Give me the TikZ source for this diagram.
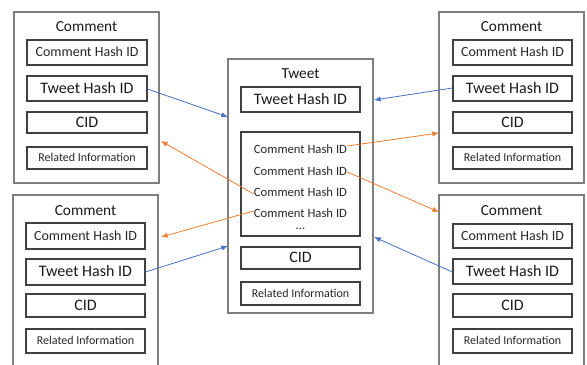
\documentclass[tikz,border=0pt]{standalone}
\usepackage{fontspec}
\setmainfont{Carlito}
\usetikzlibrary{fit,arrows.meta}
\definecolor{cblue}{HTML}{4472C4}
\definecolor{corange}{HTML}{ED7D31}
\definecolor{frame}{HTML}{7F7F7F}
\definecolor{inframe}{HTML}{404040}
\tikzset{
  outerbox/.style={draw=frame, line width=0.9pt, inner sep=0pt, fit={#1}},
  innerbox/.style={draw=inframe, line width=0.8pt, inner sep=0pt},
  titletext/.style={font=\fontsize{11.5}{12}\selectfont, text=black!90, inner sep=0pt},
  fhash/.style={font=\fontsize{10.5}{12}\selectfont, inner sep=0pt, text=black!85},
  fbig/.style={font=\fontsize{12}{14}\selectfont, inner sep=0pt, text=black!90},
  frel/.style={font=\fontsize{9}{11}\selectfont, inner sep=0pt, text=black!85},
  flist/.style={font=\fontsize{9.5}{11}\selectfont, inner sep=0pt, text=black!85},
  bluearr/.style={draw=cblue, line width=0.6pt, -{Latex[length=5pt,width=4pt]}},
  orangearr/.style={draw=corange, line width=0.6pt, -{Latex[length=5pt,width=4pt]}},
}
\newcommand\ibox[4]{\node[innerbox, fit={#2}] (#1) {};\node[#3] (#1-t) at ([yshift=0.4pt]#1.center) {#4};}
\begin{document}
\begin{tikzpicture}[x=0.75pt,y=-0.75pt]
\useasboundingbox (0,0) rectangle (587,365);
% ---------- Tweet ----------
\node[outerbox={(228,59)(373,313)}] (tw) {};
\node[titletext] (twt) at (300.5,74) {Tweet};
\ibox{twh}{(241,87)(360,112)}{fbig}{Tweet Hash ID}
\node[innerbox, fit={(241,132)(360,236)}] (twl) {};
\node[flist] (l1) at (300.5,149) {Comment Hash ID};
\node[flist] (l2) at (300.5,171) {Comment Hash ID};
\node[flist] (l3) at (300.5,192) {Comment Hash ID};
\node[flist] (l4) at (300.5,213) {Comment Hash ID};
\node[flist] (l5) at (300.5,228.5) {...};
\ibox{twc}{(241,247)(360,269)}{fbig}{CID}
\ibox{twr}{(241,282)(360,305)}{frel}{Related Information}
% ---------- Comment top-left ----------
\node[outerbox={(14,12)(159,183)}] (c1) {};
\node[titletext] (c1t) at (86.5,27) {Comment};
\ibox{c1h}{(27,40)(147,65)}{fhash}{Comment Hash ID}
\ibox{c1w}{(27,76)(147,101)}{fbig}{Tweet Hash ID}
\ibox{c1c}{(27,112)(147,133)}{fbig}{CID}
\ibox{c1r}{(27,147)(147,169)}{frel}{Related Information}
% ---------- Comment top-right ----------
\node[outerbox={(439,12)(584,183)}] (c2) {};
\node[titletext] (c2t) at (511.5,27) {Comment};
\ibox{c2h}{(453,40)(572,65)}{fhash}{Comment Hash ID}
\ibox{c2w}{(453,76)(572,101)}{fbig}{Tweet Hash ID}
\ibox{c2c}{(453,112)(572,133)}{fbig}{CID}
\ibox{c2r}{(453,147)(572,169)}{frel}{Related Information}
% ---------- Comment bottom-left ----------
\node[outerbox={(13,195)(158,372)}] (c3) {};
\node[titletext] (c3t) at (85.5,211) {Comment};
\ibox{c3h}{(26,223)(145,249)}{fhash}{Comment Hash ID}
\ibox{c3w}{(26,259)(145,285)}{fbig}{Tweet Hash ID}
\ibox{c3c}{(26,294)(145,317)}{fbig}{CID}
\ibox{c3r}{(26,329)(145,353)}{frel}{Related Information}
% ---------- Comment bottom-right ----------
\node[outerbox={(439,195)(584,372)}] (c4) {};
\node[titletext] (c4t) at (511.5,211) {Comment};
\ibox{c4h}{(453,224)(572,248)}{fhash}{Comment Hash ID}
\ibox{c4w}{(453,259)(572,284)}{fbig}{Tweet Hash ID}
\ibox{c4c}{(453,294)(572,317)}{fbig}{CID}
\ibox{c4r}{(453,329)(572,353)}{frel}{Related Information}
% ---------- connectors ----------
\coordinate (a1) at (228,117);
\coordinate (a2) at (228,246);
\coordinate (a3) at (374,100);
\coordinate (a4) at (374,237);
\coordinate (o1) at (161,141);
\coordinate (o2) at (161,237);
\coordinate (o3) at (439,133);
\coordinate (o4) at (439,212);
\draw[bluearr] (c1w.east |- 0,89) -- (a1);
\draw[bluearr] (c3w.east |- 0,272) -- (a2);
\draw[bluearr] (c2w.west |- 0,88) -- (a3);
\draw[bluearr] (c4w.west |- 0,272) -- (a4);
\draw[orangearr] (l3.west |- 0,194) -- (o1);
\draw[orangearr] (l4.west |- 0,211) -- (o2);
\draw[orangearr] (l1.east |- 0,146) -- (o3);
\draw[orangearr] (l2.east |- 0,172) -- (o4);
\end{tikzpicture}
\end{document}
